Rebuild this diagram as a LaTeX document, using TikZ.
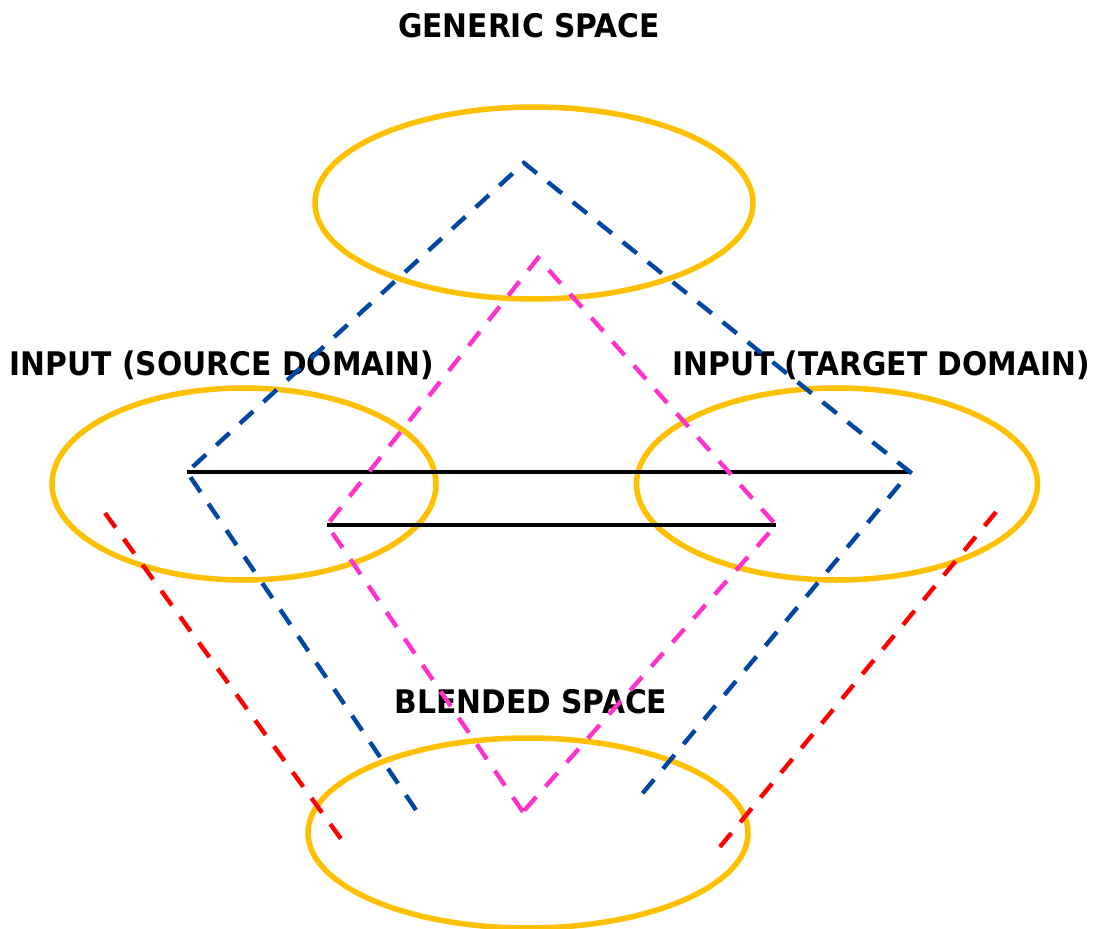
\documentclass[tikz,border=0pt]{standalone}
\usepackage{fontspec}
\usetikzlibrary{shapes.geometric}
\newfontfamily\labelfont[FakeStretch=0.915]{DejaVu Sans}
\definecolor{gold}{HTML}{FFC000}
\definecolor{mapblue}{HTML}{0047A3}
\definecolor{mapmagenta}{HTML}{FF33CC}
\definecolor{mapred}{HTML}{FF0000}
\begin{document}
\begin{tikzpicture}[x=1pt,y=-1pt,
  space/.style={draw=gold, line width=5.5pt, ellipse, inner sep=0pt},
  heading/.style={font=\labelfont\bfseries\fontsize{32.5}{36}\selectfont, anchor=base, inner sep=0pt},
  mapping/.style={line width=4.4pt, dash pattern=on 18pt off 14pt, line join=miter},
  link/.style={line width=3.6pt, black}]
\useasboundingbox (0,0) rectangle (1096,929);

% mental spaces
\node[space, minimum width=438pt, minimum height=192pt] (generic) at (534,203) {};
\node[space, minimum width=384pt, minimum height=192pt] (source) at (244,484) {};
\node[space, minimum width=401pt, minimum height=192pt] (target) at (837,484) {};
\node[space, minimum width=440pt, minimum height=190pt] (blend) at (528,833) {};

% headings
\node[heading] (tgeneric) at (529,37) {GENERIC SPACE};
\node[heading] (tsource) at (222,375) {INPUT (SOURCE DOMAIN)};
\node[heading] (ttarget) at (881,375) {INPUT (TARGET DOMAIN)};
\node[heading] (tblend) at (531,713) {BLENDED SPACE};

% mapping points
\coordinate (gtop) at (524,163);
\coordinate (sA) at (187,472);
\coordinate (tA) at (910,472);
\coordinate (bL) at (416,810);
\coordinate (bR) at (637,800);
\coordinate (gmid) at (538,258);
\coordinate (sB) at (327,525);
\coordinate (tB) at (776,525);
\coordinate (bM) at (523,812);
\coordinate (rS1) at (105,513);
\coordinate (rS2) at (344,843);
\coordinate (rT1) at (996,512);
\coordinate (rT2) at (719,848);

% cross-space counterpart links
\draw[link] (sA) -- (tA);
\draw[link] (sB) -- (tB);

% projections through the network
\draw[mapping, mapblue] (bL) -- (sA) -- (gtop) -- (tA) -- (bR);
\draw[mapping, mapmagenta] (bM) -- (sB) -- (gmid) -- (tB) -- (bM);
\draw[mapping, mapred] (rS1) -- (rS2);
\draw[mapping, mapred] (rT1) -- (rT2);
\end{tikzpicture}
\end{document}
